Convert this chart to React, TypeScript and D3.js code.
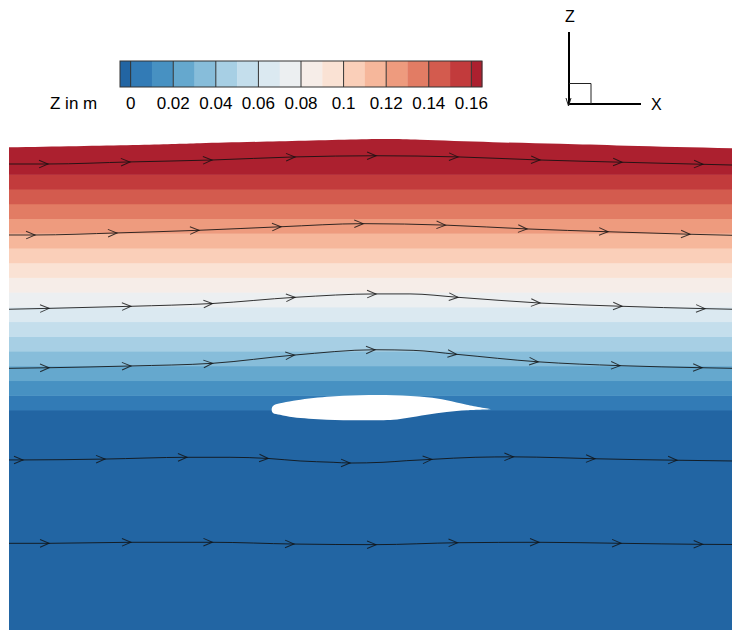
import React, { useEffect, useRef } from "react";
import * as d3 from "d3";

// contour levels of Z (m) and colorbar ticks
const levels = [0, 0.01, 0.02, 0.03, 0.04, 0.05, 0.06, 0.07, 0.08, 0.09, 0.1, 0.11, 0.12, 0.13, 0.14, 0.15, 0.16];
const tickValues = [0, 0.02, 0.04, 0.06, 0.08, 0.1, 0.12, 0.14, 0.16];
const tickLabels = ["0", "0.02", "0.04", "0.06", "0.08", "0.1", "0.12", "0.14", "0.16"];

// domain extents in metres
const xExtent = [0, 0.4908];
const zBottom = -0.15;
const zTop = 0.19;

// free surface elevation [x, z]
const surface = [
  [0, 0.1783], [0.0842, 0.1799], [0.1297, 0.1811], [0.1752, 0.1822], [0.2428, 0.1838],
  [0.279, 0.1834], [0.3286, 0.1818], [0.3741, 0.1807], [0.4196, 0.1794], [0.4908, 0.1777],
];

// hydrofoil section, leading edge -> trailing edge
const foilUpper = [
  [0.1783, 0.0002], [0.1792, 0.0027], [0.184, 0.0045], [0.193, 0.0063], [0.2157, 0.009],
  [0.2383, 0.01], [0.2609, 0.01], [0.2836, 0.0086], [0.2971, 0.0066], [0.3107, 0.0036], [0.3277, 0.0005],
];
const foilLower = [
  [0.1783, 0.0002], [0.1792, -0.002], [0.184, -0.0032], [0.193, -0.005], [0.2157, -0.0066],
  [0.2383, -0.007], [0.2609, -0.0066], [0.27, -0.0054], [0.2836, -0.0032], [0.2971, -0.0014],
  [0.3107, -0.0002], [0.3277, 0.0005],
];

// streamlines [x, z] and arrow stations (x)
const stream1 = [
  [0, 0.167], [0.0265, 0.167], [0.0821, 0.1684], [0.1378, 0.1697], [0.1942, 0.1718], [0.2492, 0.1726],
  [0.3048, 0.1718], [0.3605, 0.1697], [0.4162, 0.1682], [0.4711, 0.1668], [0.4908, 0.1663],
];
const arrows1 = [0.0265, 0.0821, 0.1378, 0.1942, 0.2492, 0.3048, 0.3605, 0.4162, 0.4711];

const stream2 = [
  [0, 0.1188], [0.0177, 0.1188], [0.0733, 0.1202], [0.129, 0.122], [0.1847, 0.1244], [0.2405, 0.1265],
  [0.2963, 0.1255], [0.3517, 0.1229], [0.4067, 0.121], [0.4623, 0.1193], [0.4908, 0.1186],
];
const arrows2 = [0.0177, 0.0733, 0.129, 0.1847, 0.2405, 0.2963, 0.3517, 0.4067, 0.4623];

const stream3 = [
  [0, 0.0684], [0.0272, 0.069], [0.0828, 0.0704], [0.1382, 0.0723], [0.1942, 0.0765], [0.2492, 0.0788],
  [0.2722, 0.0788], [0.3048, 0.0765], [0.3605, 0.0726], [0.4162, 0.0704], [0.4725, 0.0688], [0.4908, 0.0684],
];
const arrows3 = [0.0272, 0.0828, 0.1382, 0.1942, 0.2492, 0.3048, 0.3605, 0.4162, 0.4725];

const stream4 = [
  [0, 0.0283], [0.0272, 0.0287], [0.0828, 0.0299], [0.1382, 0.0317], [0.1938, 0.0373], [0.2485, 0.0409],
  [0.2743, 0.0405], [0.3039, 0.0378], [0.3593, 0.0327], [0.4148, 0.0301], [0.4705, 0.0287], [0.4908, 0.0283],
];
const arrows4 = [0.0272, 0.0828, 0.1382, 0.1938, 0.2485, 0.3039, 0.3593, 0.4148, 0.4705];

const stream5 = [
  [0, -0.0339], [0.0095, -0.0339], [0.0652, -0.0333], [0.1208, -0.0321], [0.15, -0.0321], [0.176, -0.0329],
  [0.1976, -0.0346], [0.22, -0.0355], [0.2315, -0.036], [0.2539, -0.0355], [0.27, -0.0344], [0.287, -0.0335],
  [0.3164, -0.0321], [0.3424, -0.0318], [0.3741, -0.0324], [0.3978, -0.0331], [0.4535, -0.0341], [0.4908, -0.0346],
];
const arrows5 = [0.0095, 0.0652, 0.1208, 0.176, 0.2315, 0.287, 0.3424, 0.3978, 0.4535];

const stream6 = [
  [0, -0.0905], [0.0272, -0.0905], [0.0828, -0.0898], [0.1381, -0.0898], [0.1935, -0.091], [0.2492, -0.0914],
  [0.3045, -0.0901], [0.3598, -0.0898], [0.4155, -0.0905], [0.4709, -0.0912], [0.4908, -0.0913],
];
const arrows6 = [0.0272, 0.0828, 0.1381, 0.1935, 0.2492, 0.3045, 0.3598, 0.4155, 0.4709];

const streamlines = [
  { pts: stream1, arrows: arrows1 },
  { pts: stream2, arrows: arrows2 },
  { pts: stream3, arrows: arrows3 },
  { pts: stream4, arrows: arrows4 },
  { pts: stream5, arrows: arrows5 },
  { pts: stream6, arrows: arrows6 },
];

const FONT = "Liberation Sans, Arial, Helvetica, sans-serif";

const App = () => {
  const ref = useRef<SVGSVGElement>(null);

  useEffect(() => {
    const width = 732,
      height = 630;
    const svg = d3.select(ref.current);
    svg.selectAll("*").remove();
    svg.attr("width", width).attr("height", height);

    // same metres-per-pixel on both axes
    const xScale = d3.scaleLinear().domain(xExtent).range([9, 732]);
    const zScale = d3.scaleLinear().domain([0, 0.16]).range([410, 174.3]);

    // 18 colour classes: below 0, 16 intervals, above 0.16
    const bandColors = d3.range(levels.length + 1).map((i) => d3.interpolateRdBu(0.9 - (i * 0.8) / levels.length));
    const color = d3.scaleThreshold<number, string>().domain(levels).range(bandColors);

    // clip the water column under the free surface
    const water = d3
      .area<number[]>()
      .x((d) => xScale(d[0]))
      .y0(zScale(zBottom) + 2)
      .y1((d) => zScale(d[1]))
      .curve(d3.curveNatural);
    svg.append("clipPath").attr("id", "water").append("path").attr("d", water(surface));

    const edges = [zBottom, ...levels, zTop];
    const bands = d3.range(edges.length - 1).map((i) => ({ lo: edges[i], hi: edges[i + 1] }));
    svg
      .append("g")
      .attr("clip-path", "url(#water)")
      .selectAll("rect")
      .data(bands)
      .enter()
      .append("rect")
      .attr("x", xScale(xExtent[0]))
      .attr("width", xScale(xExtent[1]) - xScale(xExtent[0]))
      .attr("y", (d) => zScale(d.hi))
      .attr("height", (d) => zScale(d.lo) - zScale(d.hi) + 0.5)
      .attr("fill", (d) => color((d.lo + d.hi) / 2));

    // hydrofoil: TE -> upper -> LE -> lower -> TE
    const foilPts = [...foilUpper.slice().reverse(), ...foilLower.slice(1)];
    const foilLine = d3
      .line<number[]>()
      .x((d) => xScale(d[0]))
      .y((d) => zScale(d[1]))
      .curve(d3.curveCatmullRom.alpha(0.5));
    svg.append("path").attr("d", foilLine(foilPts) + "Z").attr("fill", "#fff");

    // streamlines with open arrowheads
    const sLine = d3
      .line<number[]>()
      .x((d) => xScale(d[0]))
      .y((d) => zScale(d[1]))
      .curve(d3.curveMonotoneX);
    const sg = svg.append("g");
    streamlines.forEach((s) => {
      sg.append("path")
        .attr("d", sLine(s.pts))
        .attr("fill", "none")
        .attr("stroke", "#111")
        .attr("stroke-opacity", 0.85)
        .attr("stroke-width", 1);
      const zAt = d3.scaleLinear().domain(s.pts.map((p) => p[0])).range(s.pts.map((p) => p[1]));
      s.arrows.forEach((ax) => {
        const px = xScale(ax),
          py = zScale(zAt(ax));
        const e = 0.003;
        const ang =
          (Math.atan2(zScale(zAt(ax + e)) - zScale(zAt(ax - e)), xScale(ax + e) - xScale(ax - e)) * 180) / Math.PI;
        sg.append("path")
          .attr("d", "M-9,-3.8L0,0L-9,3.8")
          .attr("transform", `translate(${px},${py}) rotate(${ang})`)
          .attr("fill", "none")
          .attr("stroke", "#111")
          .attr("stroke-opacity", 0.8)
          .attr("stroke-width", 1);
      });
    });

    // colorbar
    const cb = d3.scaleLinear().domain([-0.005, 0.165]).range([120, 482]);
    const cbTop = 61,
      cbH = 26;
    const cbEdges = [-0.005, ...levels, 0.165];
    const cbg = svg.append("g");
    cbg
      .selectAll("rect.cell")
      .data(d3.range(cbEdges.length - 1))
      .enter()
      .append("rect")
      .attr("class", "cell")
      .attr("x", (i) => cb(cbEdges[i]))
      .attr("width", (i) => cb(cbEdges[i + 1]) - cb(cbEdges[i]) + 0.3)
      .attr("y", cbTop)
      .attr("height", cbH)
      .attr("fill", (i) => bandColors[i]);
    cbg
      .selectAll("line.sep")
      .data(tickValues)
      .enter()
      .append("line")
      .attr("class", "sep")
      .attr("x1", (d) => cb(d))
      .attr("x2", (d) => cb(d))
      .attr("y1", cbTop)
      .attr("y2", cbTop + cbH)
      .attr("stroke", "#333")
      .attr("stroke-width", 1);
    cbg
      .append("rect")
      .attr("x", cb(-0.005))
      .attr("y", cbTop)
      .attr("width", cb(0.165) - cb(-0.005))
      .attr("height", cbH)
      .attr("fill", "none")
      .attr("stroke", "#333")
      .attr("stroke-width", 1);
    cbg
      .selectAll("text.tick")
      .data(tickValues)
      .enter()
      .append("text")
      .attr("class", "tick")
      .attr("x", (d) => cb(d))
      .attr("y", 109)
      .attr("text-anchor", "middle")
      .style("font-family", FONT)
      .style("font-size", "17px")
      .text((d, i) => tickLabels[i]);
    cbg
      .append("text")
      .attr("x", 50)
      .attr("y", 109)
      .style("font-family", FONT)
      .style("font-size", "17px")
      .text("Z in m");

    // axis triad
    const tg = svg.append("g");
    tg.append("line").attr("x1", 569).attr("y1", 32).attr("x2", 569).attr("y2", 104).attr("stroke", "#000").attr("stroke-width", 2);
    tg.append("line").attr("x1", 568).attr("y1", 104).attr("x2", 641).attr("y2", 104).attr("stroke", "#000").attr("stroke-width", 2);
    tg.append("path").attr("d", "M569,83.5H591V104").attr("fill", "none").attr("stroke", "#222").attr("stroke-width", 1);
    tg.append("path").attr("d", "M566,98L568.5,106L571,98").attr("fill", "none").attr("stroke", "#222").attr("stroke-width", 1);
    tg.append("text").attr("x", 570).attr("y", 22).attr("text-anchor", "middle").style("font-family", FONT).style("font-size", "16px").text("Z");
    tg.append("text").attr("x", 651).attr("y", 110).style("font-family", FONT).style("font-size", "16px").text("X");
  }, []);

  return <svg ref={ref} style={{ position: "absolute", left: 0, top: 0, display: "block" }}></svg>;
};

export default App;
